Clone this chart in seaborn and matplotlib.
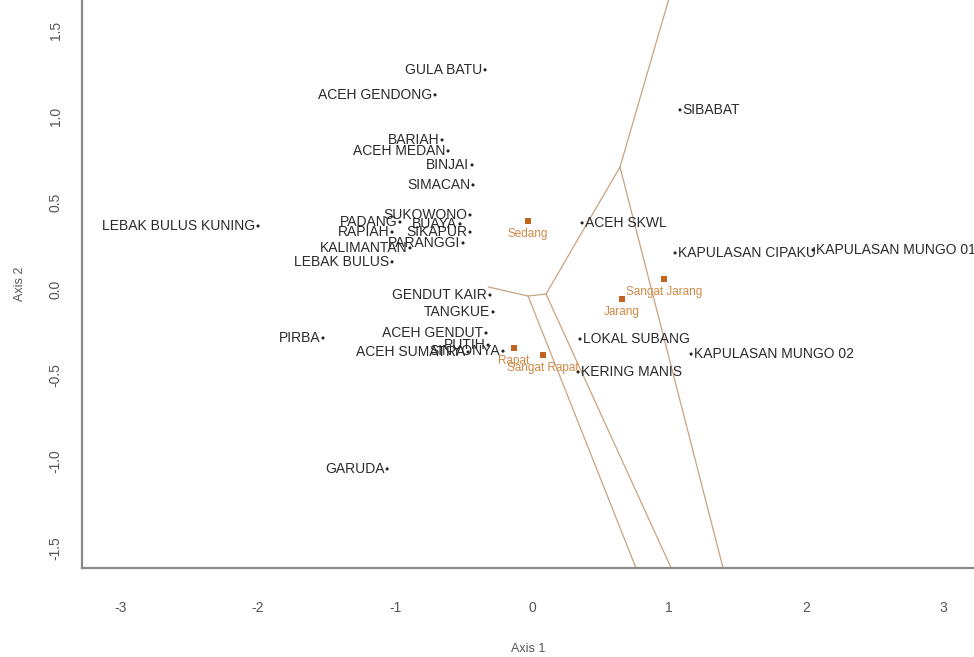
import matplotlib
matplotlib.use("Agg")
import matplotlib.pyplot as plt
import seaborn as sns
import pandas as pd

# ---- data: cultivar coordinates (Axis 1, Axis 2) ----
cultivars = ["GULA BATU", "ACEH GENDONG", "BARIAH", "ACEH MEDAN", "BINJAI", "SIMACAN",
             "SIBABAT", "LEBAK BULUS KUNING", "SUKOWONO", "PADANG", "BUAYA", "RAPIAH",
             "SIKAPUR", "PARANGGI", "KALIMANTAN", "LEBAK BULUS", "ACEH SKWL",
             "KAPULASAN CIPAKU", "KAPULASAN MUNGO 01", "GENDUT KAIR", "TANGKUE",
             "ACEH GENDUT", "PUTIH", "ACEH SUMATRA", "SINYONYA", "PIRBA",
             "LOKAL SUBANG", "KAPULASAN MUNGO 02", "KERING MANIS", "GARUDA"]
axis1 = [-0.343, -0.708, -0.657, -0.613, -0.438, -0.431,
         1.080, -2.000, -0.453, -0.964, -0.526, -1.022,
         -0.453, -0.504, -0.891, -1.022, 0.365,
         1.044, 2.051, -0.307, -0.285,
         -0.336, -0.321, -0.467, -0.212, -1.526,
         0.350, 1.161, 0.336, -1.058]
axis2 = [1.270, 1.125, 0.864, 0.800, 0.719, 0.603,
         1.038, 0.365, 0.429, 0.388, 0.377, 0.330,
         0.330, 0.267, 0.238, 0.157, 0.383,
         0.209, 0.226, -0.035, -0.133,
         -0.255, -0.325, -0.365, -0.360, -0.284,
         -0.290, -0.377, -0.481, -1.043]

# ---- data: group centroids ----
groups = ["Sedang", "Sangat Jarang", "Jarang", "Sangat Rapat", "Rapat"]
group_axis1 = [-0.030, 0.964, 0.657, 0.080, -0.131]
group_axis2 = [0.394, 0.058, -0.058, -0.383, -0.342]

# ---- data: Voronoi boundary segments between centroids ----
vor_x0 = [0.642, 0.642, 0.642, 0.102, 0.102, -0.029, -0.029]
vor_y0 = [0.707, 0.707, 0.707, -0.029, -0.029, -0.041, -0.041]
vor_x1 = [1.024, 0.102, 1.421, -0.029, 1.063, 0.800, -0.320]
vor_y1 = [1.750, -0.029, -1.700, -0.041, -1.700, -1.700, 0.012]

xticks = [-3, -2, -1, 0, 1, 2, 3]
yticks = [-1.5, -1.0, -0.5, 0.0, 0.5, 1.0, 1.5]

sns.set_style("white")
plt.rcParams["font.family"] = ["Liberation Sans", "DejaVu Sans"]

df = pd.DataFrame({"Axis 1": axis1, "Axis 2": axis2, "name": cultivars})
gdf = pd.DataFrame({"Axis 1": group_axis1, "Axis 2": group_axis2, "name": groups})

fig = plt.figure(figsize=(9.74, 6.57), dpi=100)
ax = fig.add_axes([0.0842, 0.1355, 0.9158, 0.8645])

line_col = "#c8a482"
for x0, y0, x1, y1 in zip(vor_x0, vor_y0, vor_x1, vor_y1):
    ax.plot([x0, x1], [y0, y1], color=line_col, lw=0.9, zorder=1)

sns.scatterplot(data=df, x="Axis 1", y="Axis 2", ax=ax, color="#222222",
                s=5, marker="o", edgecolor="none", zorder=3, legend=False)
sns.scatterplot(data=gdf, x="Axis 1", y="Axis 2", ax=ax, color="#c0651f",
                s=18, marker="s", edgecolor="none", zorder=3, legend=False)

for name, x, y in zip(cultivars, axis1, axis2):
    if x > 0:
        ax.annotate(name, (x, y), xytext=(2, 0), textcoords="offset points",
                    ha="left", va="center", fontsize=10, color="#2a2a2a", zorder=4)
    else:
        ax.annotate(name, (x, y), xytext=(-2, 0), textcoords="offset points",
                    ha="right", va="center", fontsize=10, color="#2a2a2a", zorder=4)

for name, x, y in zip(groups, group_axis1, group_axis2):
    ax.annotate(name, (x, y), xytext=(0, -5), textcoords="offset points",
                ha="center", va="top", fontsize=8.5, color="#d08844", zorder=4)

ax.set_xlim(-3.285, 3.226)
ax.set_ylim(-1.617, 1.675)
ax.set_xticks(xticks)
ax.set_xticklabels([str(t) for t in xticks])
ax.set_yticks(yticks)
ax.set_yticklabels([f"{t:.1f}" for t in yticks], rotation=90, va="center")

for side in ["top", "right"]:
    ax.spines[side].set_visible(False)
for side in ["left", "bottom"]:
    ax.spines[side].set_color("#8a8a8a")
    ax.spines[side].set_linewidth(1.6)
ax.tick_params(axis="both", direction="out", length=8, width=1.0, color="#8a8a8a",
               labelsize=10, labelcolor="#555555")
ax.tick_params(axis="x", pad=16)
ax.tick_params(axis="y", pad=6)
ax.set_xlabel("Axis 1", fontsize=9, color="#555555", labelpad=20)
ax.set_ylabel("Axis 2", fontsize=9, color="#555555", labelpad=16)

fig.savefig("out.png", dpi=100)
